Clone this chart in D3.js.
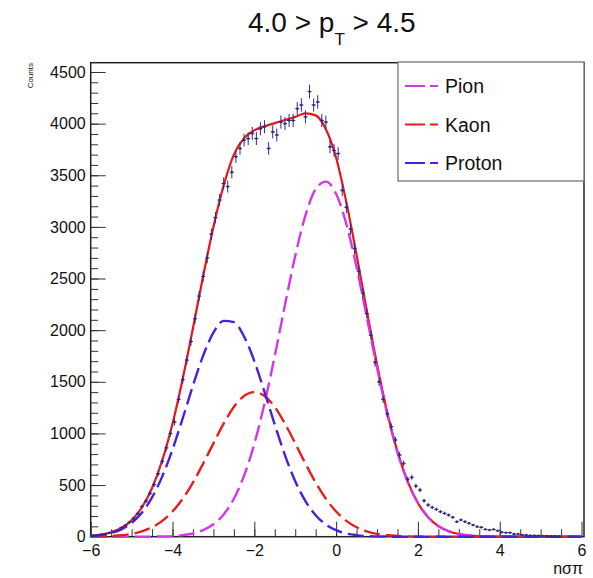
<!DOCTYPE html>
<html>
<head>
<meta charset="utf-8">
<script src="https://cdn.jsdelivr.net/npm/d3@7"></script>
<style>
  body { margin: 0; background: #fff; }
  svg { font-family: "Liberation Sans", Arial, Helvetica, sans-serif; }
</style>
</head>
<body>
<svg id="chart"></svg>
<script>
// histogram: 120 bins of 0.1 between -6 and 6
const binLow = -6;
const binWidth = 0.1;
const counts = [
  8, 12, 18, 25, 36, 48, 62, 88, 110, 140,
  178, 225, 290, 345, 420, 505, 610, 730, 860, 1000,
  1110, 1330, 1520, 1710, 1890, 2110, 2330, 2520, 2700, 2930,
  3090, 3260, 3420, 3390, 3530, 3680, 3760, 3840, 3855, 3905,
  3855, 3950, 3970, 3760, 3920, 3890, 4015, 4000, 4030, 4030,
  4145, 4180, 4065, 4310, 4180, 4210, 4030, 4015, 3775, 3740,
  3710, 3355, 3190, 2980, 2790, 2570, 2360, 2160, 1950, 1690,
  1500, 1330, 1190, 1065, 936, 791, 710, 558, 575, 491,
  452, 348, 307, 284, 265, 242, 226, 210, 188, 145,
  162, 145, 130, 113, 97, 91, 71, 65, 71, 58,
  43, 39, 39, 26, 26, 18, 16, 12, 12, 10,
  8, 7, 6, 5, 2, 0, 0, 0, 0, 0
];

// fit curves, read every 0.25
const fitX = [
  -6, -5.75, -5.5, -5.25, -5, -4.75, -4.5, -4.25, -4, -3.75, -3.5, -3.25, -3,
  -2.75, -2.5, -2.25, -2, -1.75, -1.5, -1.25, -1, -0.75, -0.5, -0.25, 0,
  0.25, 0.5, 0.75, 1, 1.25, 1.5, 1.75, 2, 2.25, 2.5, 2.75, 3,
  3.25, 3.5, 3.75, 4, 4.25, 4.5, 4.75, 5, 5.25, 5.5, 5.75, 6
];
const pion = [
  0, 0, 0, 0, 0, 0, 1, 3, 6, 15, 31, 63, 120,
  216, 368, 592, 899, 1291, 1751, 2245, 2719, 3112, 3365, 3438, 3320,
  3028, 2610, 2126, 1636, 1189, 817, 531, 326, 189, 103, 53, 26,
  12, 5, 2, 1, 0, 0, 0, 0, 0, 0, 0, 0
];
const kaon = [
  1, 3, 7, 14, 27, 52, 91, 153, 244, 368, 524, 708, 904,
  1095, 1256, 1362, 1400, 1362, 1256, 1095, 904, 708, 524, 368, 244,
  153, 91, 52, 27, 14, 7, 3, 1, 0, 0, 0, 0,
  0, 0, 0, 0, 0, 0, 0, 0, 0, 0, 0, 0
];
const proton = [
  8, 17, 36, 71, 133, 231, 380, 584, 844, 1147, 1464, 1754, 1976,
  2090, 2077, 1938, 1701, 1401, 1084, 788, 538, 345, 208, 118, 63,
  31, 15, 6, 3, 1, 0, 0, 0, 0, 0, 0, 0,
  0, 0, 0, 0, 0, 0, 0, 0, 0, 0, 0, 0
];
const total = [
  9, 20, 43, 85, 160, 283, 472, 740, 1094, 1530, 2019, 2525, 3000,
  3401, 3700, 3860, 3935, 3975, 4005, 4035, 4065, 4100, 4080, 3945, 3670,
  3240, 2730, 2190, 1670, 1204, 824, 534, 327, 189, 103, 53, 26,
  12, 5, 2, 1, 0, 0, 0, 0, 0, 0, 0, 0
];

const xTicks = [-6, -4, -2, 0, 2, 4, 6];
const yTicks = [0, 500, 1000, 1500, 2000, 2500, 3000, 3500, 4000, 4500];
const legendNames = ["Pion", "Kaon", "Proton"];

const width = 593, height = 578;
const frame = {left: 90.7, right: 584, top: 62.7, bottom: 536.7};
const colors = {pion: "#d238e6", kaon: "#e3201e", proton: "#4a20dc", total: "#e8151b", data: "#2d2d86"};

const svg = d3.select("#chart")
  .attr("width", width)
  .attr("height", height);

const x = d3.scaleLinear()
  .domain([-6, 6.06])
  .range([frame.left, frame.right]);

const y = d3.scaleLinear()
  .domain([0, 4590])
  .range([frame.bottom, frame.top]);

// ticks point inwards like ROOT
function styleAxis(g) {
  g.select(".domain").remove();
  g.selectAll(".tick line").attr("stroke", "#333").attr("stroke-width", 1);
  g.selectAll(".tick text").attr("fill", "#111").attr("font-size", 16);
}

svg.append("g")
  .attr("transform", `translate(0,${frame.bottom})`)
  .call(d3.axisBottom(x).tickValues(d3.range(-5.5, 6, 0.5)).tickSize(-7.5).tickFormat(""))
  .call(styleAxis);

svg.append("g")
  .attr("transform", `translate(0,${frame.bottom})`)
  .call(d3.axisBottom(x).tickValues(xTicks).tickSize(-15).tickPadding(8).tickFormat(d3.format("d")))
  .call(styleAxis);

svg.append("g")
  .attr("transform", `translate(${frame.left},0)`)
  .call(d3.axisLeft(y).tickValues(d3.range(100, 4590, 100)).tickSize(-7.5).tickFormat(""))
  .call(styleAxis);

svg.append("g")
  .attr("transform", `translate(${frame.left},0)`)
  .call(d3.axisLeft(y).tickValues(yTicks).tickSize(-15).tickPadding(5).tickFormat(d3.format("d")))
  .call(styleAxis);

// frame
svg.append("rect")
  .attr("x", frame.left)
  .attr("y", frame.top)
  .attr("width", frame.right - frame.left)
  .attr("height", frame.bottom - frame.top)
  .attr("fill", "none")
  .attr("stroke", "#222")
  .attr("stroke-width", 1.5);

// curves
const line = d3.line()
  .x((d, i) => x(fitX[i]))
  .y(d => y(d))
  .curve(d3.curveMonotoneX);

svg.append("path")
  .attr("d", line(total))
  .attr("fill", "none")
  .attr("stroke", colors.total)
  .attr("stroke-width", 2.2);

[[pion, colors.pion], [kaon, colors.kaon], [proton, colors.proton]].forEach(([vals, c]) => {
  svg.append("path")
    .attr("d", line(vals))
    .attr("fill", "none")
    .attr("stroke", c)
    .attr("stroke-width", 2.4)
    .attr("stroke-dasharray", "16,6");
});

// data points with sqrt(N) errors
const points = counts
  .map((v, i) => ({c: binLow + binWidth * (i + 0.5), v}))
  .filter(d => d.v > 0);

const pts = svg.append("g")
  .attr("stroke", colors.data)
  .attr("fill", colors.data);

pts.selectAll("line.ey")
  .data(points)
  .join("line")
  .attr("x1", d => x(d.c)).attr("x2", d => x(d.c))
  .attr("y1", d => y(d.v - Math.sqrt(d.v)))
  .attr("y2", d => y(d.v + Math.sqrt(d.v)))
  .attr("stroke-width", 1);

pts.selectAll("line.ex")
  .data(points)
  .join("line")
  .attr("x1", d => x(d.c - binWidth / 2)).attr("x2", d => x(d.c + binWidth / 2))
  .attr("y1", d => y(d.v)).attr("y2", d => y(d.v))
  .attr("stroke-width", 1);

pts.selectAll("circle")
  .data(points)
  .join("circle")
  .attr("cx", d => x(d.c))
  .attr("cy", d => y(d.v))
  .attr("r", 1.2)
  .attr("stroke", "none");

// legend
const legend = svg.append("g");
legend.append("rect")
  .attr("x", 398).attr("y", 62)
  .attr("width", 186).attr("height", 119)
  .attr("fill", "#fff")
  .attr("stroke", "#777")
  .attr("stroke-width", 1.3);

const legendColors = [colors.pion, colors.kaon, colors.proton];
legendNames.forEach((name, i) => {
  const cy = 86 + i * 38.5;
  legend.append("line")
    .attr("x1", 405).attr("x2", 438)
    .attr("y1", cy).attr("y2", cy)
    .attr("stroke", legendColors[i])
    .attr("stroke-width", 2)
    .attr("stroke-dasharray", "20,5");
  legend.append("text")
    .attr("x", 445).attr("y", cy + 7)
    .attr("font-size", 19.5)
    .attr("fill", "#111")
    .text(name);
});

// title
const title = svg.append("text")
  .attr("x", 248).attr("y", 32)
  .attr("font-size", 28)
  .attr("fill", "#111");
title.append("tspan").text("4.0 > p");
title.append("tspan").attr("font-size", 17).attr("dy", 13).text("T");
title.append("tspan").attr("dy", -13).text(" > 4.5");

// axis titles
svg.append("text")
  .attr("x", 583).attr("y", 574)
  .attr("text-anchor", "end")
  .attr("font-size", 16)
  .attr("fill", "#111")
  .text("nσπ");

svg.append("text")
  .attr("transform", "translate(33,63) rotate(-90)")
  .attr("text-anchor", "end")
  .attr("font-size", 8)
  .attr("fill", "#111")
  .text("Counts");
</script>
</body>
</html>
